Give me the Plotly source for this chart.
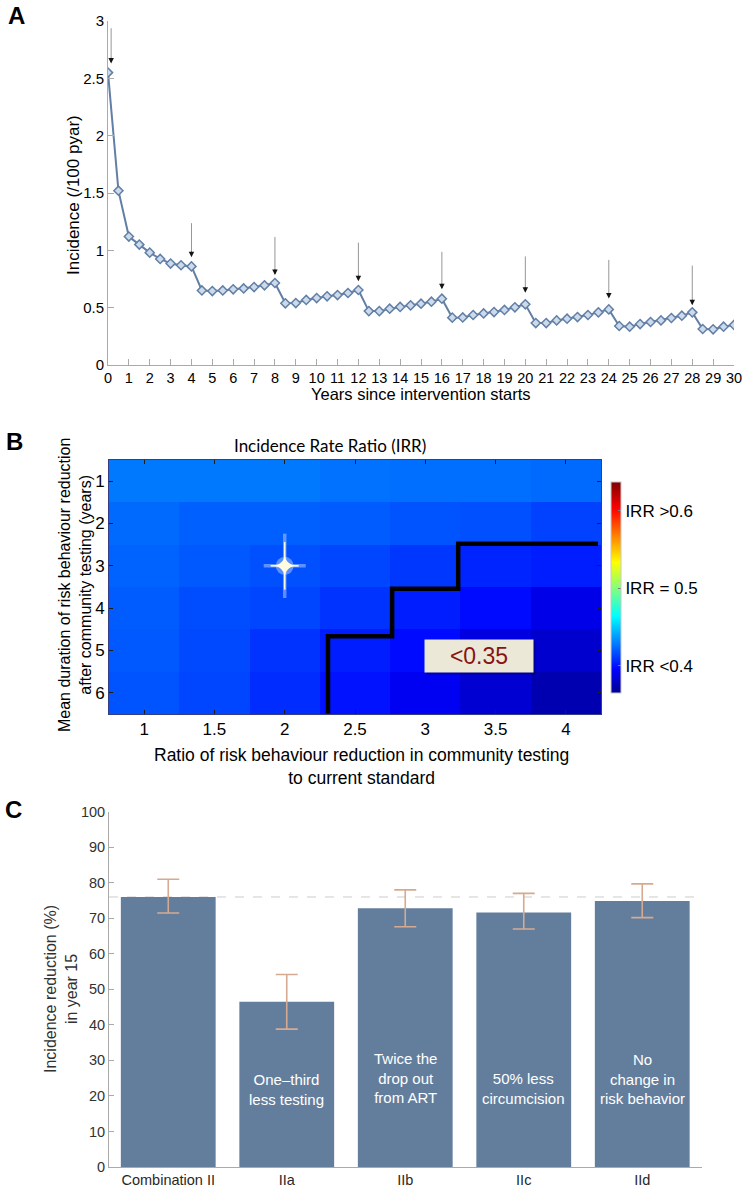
import plotly.graph_objects as go

# ---------------- Panel A data ----------------
years = [0, 0.5, 1, 1.5, 2, 2.5, 3, 3.5, 4, 4.5, 5, 5.5, 6, 6.5, 7, 7.5, 8, 8.5, 9, 9.5,
         10, 10.5, 11, 11.5, 12, 12.5, 13, 13.5, 14, 14.5, 15, 15.5, 16, 16.5, 17, 17.5,
         18, 18.5, 19, 19.5, 20, 20.5, 21, 21.5, 22, 22.5, 23, 23.5, 24, 24.5, 25, 25.5,
         26, 26.5, 27, 27.5, 28, 28.5, 29, 29.5, 30]
incidence = [2.55, 1.52, 1.12, 1.05, 0.98, 0.925, 0.885, 0.87, 0.86,
             0.65, 0.645, 0.65, 0.66, 0.668, 0.68, 0.695, 0.715,
             0.538, 0.54, 0.567, 0.584, 0.599, 0.61, 0.628, 0.654,
             0.47, 0.47, 0.491, 0.506, 0.52, 0.535, 0.552, 0.578,
             0.413, 0.415, 0.436, 0.45, 0.462, 0.48, 0.503, 0.529,
             0.366, 0.366, 0.389, 0.404, 0.418, 0.436, 0.459, 0.485,
             0.34, 0.334, 0.357, 0.375, 0.389, 0.41, 0.43, 0.459,
             0.314, 0.311, 0.334, 0.349]
arrow_years = [0.15, 4, 8, 12, 16, 20, 24, 28]
arrow_tips = [2.63, 0.94, 0.785, 0.73, 0.66, 0.63, 0.58, 0.52]
arrow_tails = [2.95, 1.25, 1.13, 1.08, 1.0, 0.96, 0.93, 0.88]
a_xticks = list(range(0, 31))
a_yticks = [0, 0.5, 1, 1.5, 2, 2.5, 3]
a_yticklabels = ["0", "0.5", "1", "1.5", "2", "2.5", "3"]

# ---------------- Panel B data ----------------
ratio = [1, 1.5, 2, 2.5, 3, 3.5, 4]
ratio_labels = ["1", "1.5", "2", "2.5", "3", "3.5", "4"]
duration = [1, 2, 3, 4, 5, 6]
irr = [
    [0.428, 0.428, 0.428, 0.426, 0.425, 0.425, 0.424],
    [0.424, 0.421, 0.421, 0.420, 0.418, 0.417, 0.413],
    [0.422, 0.419, 0.417, 0.414, 0.410, 0.405, 0.403],
    [0.420, 0.416, 0.414, 0.409, 0.403, 0.398, 0.389],
    [0.419, 0.415, 0.409, 0.403, 0.398, 0.387, 0.382],
    [0.418, 0.414, 0.407, 0.400, 0.392, 0.383, 0.374],
]
irr_min, irr_max = 0.365, 0.637
cb_vals = [0.4, 0.5, 0.6]
cb_text = ["IRR <0.4", "IRR = 0.5", "IRR >0.6"]
boundary_x = [2.308, 2.308, 2.764, 2.764, 3.234, 3.234, 4.229]
boundary_y = [6.49, 4.664, 4.664, 3.544, 3.544, 2.48, 2.48]
star_x, star_y = [2], [3]
box_label, box_x, box_y = "<0.35", 3.38, 5.12

# ---------------- Panel C data ----------------
scenarios = ["Combination II", "IIa", "IIb", "IIc", "IId"]
reduction = [76.0, 46.5, 72.8, 71.6, 74.9]
err_upper = [81.0, 54.2, 78.0, 77.0, 79.7]
err_lower = [71.5, 38.8, 67.6, 67.0, 70.2]
bar_notes = ["", "One–third<br>less testing", "Twice the<br>drop out<br>from ART",
             "50% less<br>circumcision", "No<br>change in<br>risk behavior"]
note_y = [0, 21.7, 25.1, 22.0, 24.8]
c_yticks = list(range(0, 101, 10))

W, H = 747, 1188
FONT = "Liberation Sans, Arial, Helvetica, sans-serif"


def px(x):
    return x / W


def py(y):
    return 1 - y / H


jet = [[0.0, "rgb(0,0,143)"], [0.111, "rgb(0,0,255)"], [0.365, "rgb(0,255,255)"],
       [0.619, "rgb(255,255,0)"], [0.873, "rgb(255,0,0)"], [1.0, "rgb(128,0,0)"]]

fig = go.Figure()

# Panel A
fig.add_trace(go.Scatter(
    x=years, y=incidence, mode="lines+markers", xaxis="x", yaxis="y",
    line=dict(color="rgb(98,127,165)", width=2),
    marker=dict(symbol="diamond", size=7, color="rgb(205,218,236)",
                line=dict(color="rgb(98,127,165)", width=1.5)),
    showlegend=False, hoverinfo="skip"))

# Panel B heatmap
fig.add_trace(go.Heatmap(
    x=ratio, y=duration, z=irr, xaxis="x2", yaxis="y2",
    colorscale=jet, zmin=irr_min, zmax=irr_max,
    colorbar=dict(x=px(611), xanchor="left", y=py(587.5), yanchor="middle",
                  len=211 / H, lenmode="fraction", thickness=10, xpad=0, ypad=0,
                  outlinewidth=1, outlinecolor="rgb(200,200,200)",
                  tickvals=cb_vals, ticktext=cb_text, ticks="inside", ticklen=3,
                  tickcolor="rgb(120,120,120)",
                  tickfont=dict(family=FONT, size=17, color="black")),
    showscale=True, hoverinfo="skip"))
fig.add_trace(go.Scatter(
    x=boundary_x, y=boundary_y, mode="lines", xaxis="x2", yaxis="y2",
    line=dict(color="black", width=4.5), showlegend=False, hoverinfo="skip"))

# sparkle marker (glow + thin cross + core)
star_layers = [
    dict(symbol="circle", size=18, color="rgba(200,220,255,0.45)", line=dict(width=0)),
    dict(symbol="line-ns", size=46, line=dict(width=3.5, color="rgba(170,200,255,0.55)")),
    dict(symbol="line-ew", size=30, line=dict(width=3.5, color="rgba(170,200,255,0.55)")),
    dict(symbol="line-ns", size=34, line=dict(width=1.6, color="rgb(250,248,225)")),
    dict(symbol="line-ew", size=20, line=dict(width=1.6, color="rgb(250,248,225)")),
    dict(symbol="star-diamond", size=14, color="rgb(255,252,225)", line=dict(width=0)),
]
for mk in star_layers:
    fig.add_trace(go.Scatter(
        x=star_x, y=star_y, mode="markers", xaxis="x2", yaxis="y2",
        marker=mk, showlegend=False, hoverinfo="skip"))

# Panel C bars
fig.add_trace(go.Bar(
    x=scenarios, y=reduction, xaxis="x3", yaxis="y3",
    marker=dict(color="rgb(99,126,157)", line=dict(width=0)),
    error_y=dict(type="data", symmetric=False,
                 array=[u - v for u, v in zip(err_upper, reduction)],
                 arrayminus=[v - l for v, l in zip(reduction, err_lower)],
                 color="rgb(214,170,145)", thickness=1.6, width=11),
    showlegend=False, hoverinfo="skip"))

annotations = []
shapes = []

# arrows panel A
for ax_, tip, tail in zip(arrow_years, arrow_tips, arrow_tails):
    annotations.append(dict(x=ax_, y=tip + 0.02, ax=ax_, ay=tail, xref="x", yref="y",
                            axref="x", ayref="y", text="", showarrow=True,
                            arrowhead=0, arrowwidth=1, arrowcolor="rgb(150,150,150)"))
    annotations.append(dict(x=ax_, y=tip, ax=0, ay=-7, xref="x", yref="y",
                            text="", showarrow=True, arrowhead=2, arrowsize=1.1,
                            arrowwidth=1, arrowcolor="rgb(20,20,20)"))

# panel letters
for letter, (lx, ly) in {"A": (16, 15), "B": (14, 441), "C": (13, 810)}.items():
    annotations.append(dict(x=px(lx), y=py(ly), xref="paper", yref="paper", text=f"<b>{letter}</b>",
                            showarrow=False, xanchor="center", yanchor="middle",
                            font=dict(family=FONT, size=24, color="black")))


def ptext(x, y, text, size, angle=0, color="black", family=FONT):
    return dict(x=px(x), y=py(y), xref="paper", yref="paper", text=text,
                textangle=angle, showarrow=False, xanchor="center", yanchor="middle",
                font=dict(family=family, size=size, color=color))


# axis titles
annotations += [
    ptext(73, 195, "Incidence (/100 pyar)", 17, -90),
    ptext(421, 394, "Years since intervention starts", 16.5),
    ptext(330, 445, "Incidence Rate Ratio (IRR)", 17, family="Lato, Open Sans, sans-serif"),
    ptext(75, 585, "Mean duration of risk behaviour reduction<br>after community testing (years)", 16, -90),
    ptext(361, 766, "Ratio of risk behaviour reduction in community testing<br>to current standard", 17.5),
    ptext(61, 989, "Incidence reduction (%)<br>in year 15", 16, -90, color="rgb(50,50,50)"),
    dict(x=box_x, y=box_y, xref="x2", yref="y2", text=box_label, showarrow=False,
         bgcolor="rgba(0,0,40,0.35)", width=104, height=28, borderpad=2, xshift=2, yshift=-2,
         font=dict(family=FONT, size=23, color="rgba(0,0,0,0)")),
    dict(x=box_x, y=box_y, xref="x2", yref="y2", text=box_label, showarrow=False,
         bgcolor="rgb(236,232,216)", width=104, height=28, borderpad=2,
         font=dict(family=FONT, size=23, color="rgb(135,20,20)")),
]

# bar notes
for cat, note, ny in zip(scenarios, bar_notes, note_y):
    if note:
        annotations.append(dict(x=cat, y=ny, xref="x3", yref="y3", text=note, showarrow=False,
                                font=dict(family=FONT, size=15, color="white")))

# dashed reference line panel C
shapes.append(dict(type="line", xref="x3 domain", yref="y3", x0=0, x1=1,
                   y0=reduction[0], y1=reduction[0],
                   line=dict(color="rgb(205,205,205)", width=1, dash="dash"), layer="below"))

axis_gray = "rgb(170,170,170)"
fig.update_layout(
    width=W, height=H, margin=dict(l=0, r=0, t=0, b=0, autoexpand=False),
    paper_bgcolor="white", plot_bgcolor="white",
    font=dict(family=FONT, color="black"),
    bargap=0.2,
    annotations=annotations, shapes=shapes,
    xaxis=dict(domain=[px(108), px(734)], range=[0, 30], anchor="y",
               tickvals=a_xticks, ticks="inside", ticklen=6, tickcolor=axis_gray,
               showline=True, linecolor=axis_gray, showgrid=False, zeroline=False,
               tickfont=dict(size=14.5, family=FONT)),
    yaxis=dict(domain=[py(365), py(21)], range=[0, 3], anchor="x",
               tickvals=a_yticks, ticktext=a_yticklabels, ticks="inside", ticklen=6,
               tickcolor=axis_gray, showline=True, linecolor=axis_gray, showgrid=False,
               zeroline=False, tickfont=dict(size=15, family=FONT)),
    xaxis2=dict(domain=[px(109), px(601)], range=[0.75, 4.25], anchor="y2",
                tickvals=ratio, ticktext=ratio_labels, ticks="inside", ticklen=4,
                tickcolor="rgb(30,30,30)", mirror="ticks", showline=True,
                linecolor="rgba(30,40,120,0.9)", linewidth=1,
                showgrid=False, zeroline=False, tickfont=dict(size=17, family=FONT)),
    yaxis2=dict(domain=[py(714), py(460)], range=[6.5, 0.5], anchor="x2",
                tickvals=duration, ticks="inside", ticklen=4, tickcolor="rgb(30,30,30)",
                mirror="ticks", showline=True, linecolor="rgba(30,40,120,0.9)", linewidth=1,
                showgrid=False, zeroline=False, tickfont=dict(size=17, family=FONT)),
    xaxis3=dict(domain=[px(109), px(701.5)], anchor="y3", showline=True,
                linecolor=axis_gray, ticks="", showgrid=False, zeroline=False,
                tickfont=dict(size=14.5, family=FONT, color="rgb(40,40,40)")),
    yaxis3=dict(domain=[py(1167), py(811.7)], range=[0, 100], anchor="x3",
                tickvals=c_yticks, ticks="inside", ticklen=5, tickcolor=axis_gray,
                showline=True, linecolor=axis_gray, showgrid=False, zeroline=False,
                tickfont=dict(size=14.5, family=FONT, color="rgb(50,50,50)")),
)

fig.write_html("out.html", config={"displayModeBar": False},
               post_script="document.body.style.margin='0';document.body.style.overflow='hidden';")
